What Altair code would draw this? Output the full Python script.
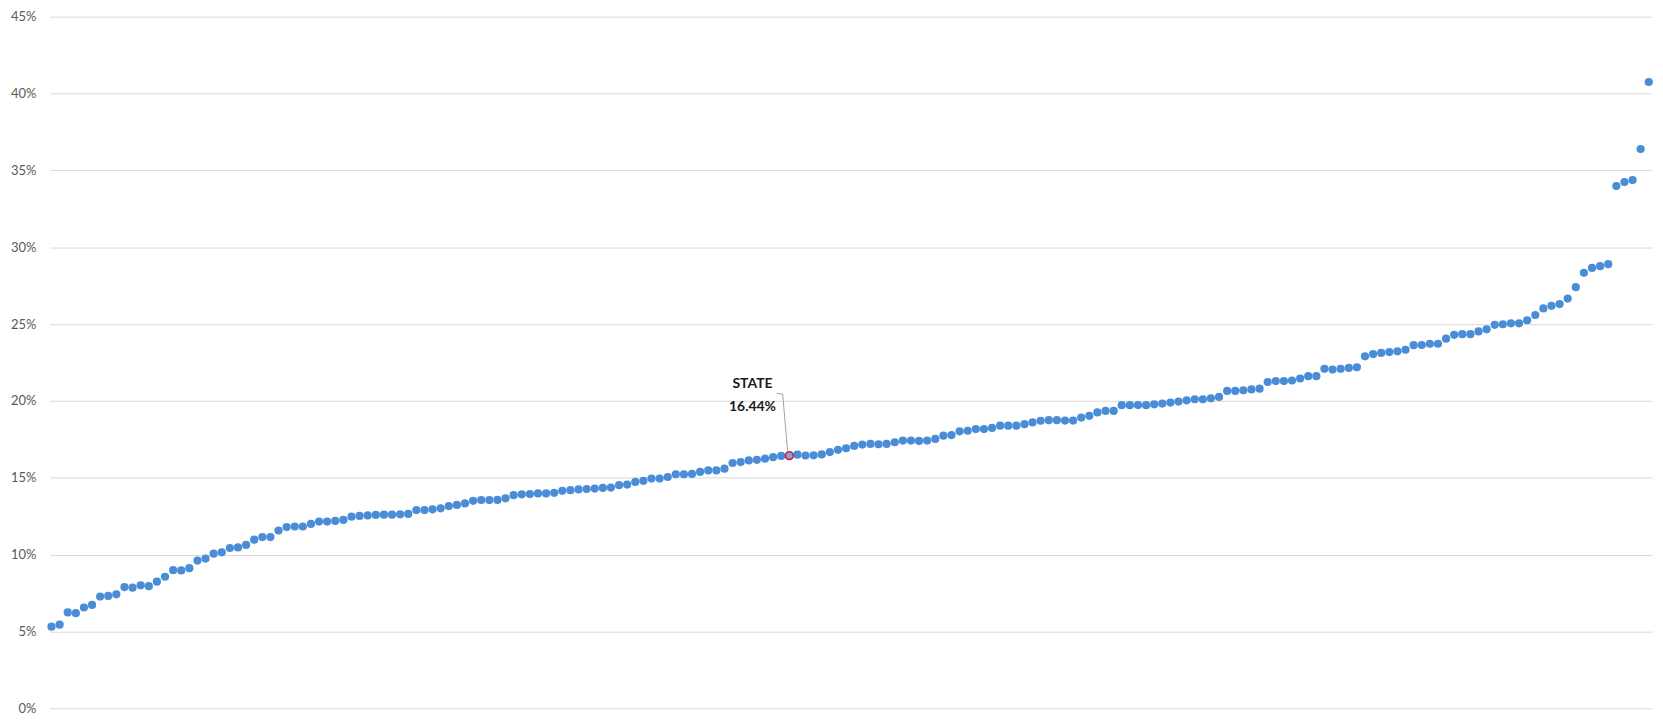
import altair as alt
import pandas as pd

# Sorted rates (percent), one per unit
rates = [
    5.31, 5.44, 6.24, 6.19, 6.56, 6.73, 7.27, 7.31, 7.42, 7.89,
    7.85, 8.00, 7.95, 8.24, 8.56, 8.99, 8.97, 9.12, 9.61, 9.74,
    10.06, 10.15, 10.43, 10.47, 10.63, 10.97, 11.14, 11.14, 11.57, 11.79,
    11.83, 11.83, 12.00, 12.15, 12.15, 12.19, 12.26, 12.47, 12.52, 12.55,
    12.58, 12.60, 12.60, 12.62, 12.65, 12.90, 12.90, 12.95, 13.01, 13.16,
    13.23, 13.33, 13.50, 13.55, 13.55, 13.56, 13.66, 13.87, 13.92, 13.94,
    13.98, 13.98, 14.02, 14.15, 14.19, 14.24, 14.27, 14.30, 14.34, 14.36,
    14.52, 14.56, 14.73, 14.80, 14.95, 14.95, 15.05, 15.23, 15.23, 15.25,
    15.38, 15.48, 15.48, 15.59, 15.96, 16.02, 16.13, 16.17, 16.24, 16.34,
    16.42, 16.44, 16.50, 16.45, 16.46, 16.52, 16.67, 16.82, 16.92, 17.07,
    17.16, 17.20, 17.18, 17.20, 17.31, 17.42, 17.42, 17.40, 17.42, 17.53,
    17.74, 17.78, 18.02, 18.06, 18.17, 18.17, 18.24, 18.39, 18.39, 18.39,
    18.49, 18.60, 18.71, 18.75, 18.75, 18.72, 18.72, 18.92, 19.03, 19.25,
    19.35, 19.35, 19.72, 19.72, 19.73, 19.72, 19.78, 19.83, 19.89, 19.96,
    20.04, 20.11, 20.11, 20.17, 20.26, 20.65, 20.65, 20.69, 20.75, 20.80,
    21.23, 21.29, 21.29, 21.33, 21.46, 21.61, 21.61, 22.09, 22.04, 22.09,
    22.15, 22.19, 22.90, 23.05, 23.12, 23.18, 23.23, 23.33, 23.63, 23.64,
    23.72, 23.72, 24.05, 24.30, 24.34, 24.34, 24.52, 24.66, 24.95, 24.99,
    25.05, 25.05, 25.25, 25.59, 26.02, 26.19, 26.30, 26.66, 27.40, 28.34,
    28.65, 28.77, 28.90, 33.98, 34.24, 34.37, 36.39, 40.75,
]

state_label = "STATE"
state_value = 16.44
state_index = 91

y_ticks = [0, 0.05, 0.10, 0.15, 0.20, 0.25, 0.30, 0.35, 0.40, 0.45]

df = pd.DataFrame({"idx": list(range(len(rates))), "rate": [r / 100 for r in rates]})
df_state = pd.DataFrame({
    "idx": [state_index],
    "rate": [state_value / 100],
    "name": [state_label],
    "value_text": [f"{state_value:.2f}%"],
})

FONT = "Lato"
BLUE = "#4a8dd7"

x_enc = alt.X(
    "idx:Q",
    scale=alt.Scale(domain=[-0.21, len(rates) - 1 + 0.4], nice=False, zero=False),
    axis=None,
)
y_enc = alt.Y(
    "rate:Q",
    scale=alt.Scale(domain=[0, 0.45], nice=False),
    axis=alt.Axis(
        values=y_ticks,
        format=".0%",
        title=None,
        domain=False,
        ticks=False,
        labelPadding=14,
        labelFont=FONT,
        labelFontSize=13,
        labelColor="#595959",
        grid=True,
        gridColor="#d9d9d9",
        gridWidth=1,
    ),
)

points = alt.Chart(df).mark_circle(size=68, color=BLUE, opacity=1).encode(x=x_enc, y=y_enc)

state_pt = alt.Chart(df_state).mark_point(
    size=60, shape="circle", filled=False, fill="#7ea8dc", fillOpacity=1,
    stroke="#e3173a", strokeWidth=1.6, opacity=1,
).encode(x="idx:Q", y="rate:Q")

leader1 = alt.Chart(df_state).mark_rule(
    color="#8c8c8c", strokeWidth=0.8,
    xOffset=-12.7, yOffset=-62.7, x2Offset=-6.7, y2Offset=-61.7,
).encode(x="idx:Q", x2="idx:Q", y="rate:Q", y2="rate:Q")

leader2 = alt.Chart(df_state).mark_rule(
    color="#8c8c8c", strokeWidth=0.8,
    xOffset=-6.7, yOffset=-61.7, x2Offset=-1.7, y2Offset=-5,
).encode(x="idx:Q", x2="idx:Q", y="rate:Q", y2="rate:Q")

lbl_name = alt.Chart(df_state).mark_text(
    font=FONT, fontSize=14, fontWeight="bold", color="#1a1a1a",
    align="center", baseline="middle", dx=-37, dy=-72,
).encode(x="idx:Q", y="rate:Q", text="name:N")

lbl_val = alt.Chart(df_state).mark_text(
    font=FONT, fontSize=14, fontWeight="bold", color="#1a1a1a",
    align="center", baseline="middle", dx=-37, dy=-49,
).encode(x="idx:Q", y="rate:Q", text="value_text:N")

chart = (
    alt.layer(points, leader1, leader2, state_pt, lbl_name, lbl_val)
    .properties(
        width=1610,
        height=695,
        autosize=alt.AutoSizeParams(type="none"),
        padding={"left": 42, "top": 7, "right": 3, "bottom": 7},
        background="white",
    )
    .configure_view(strokeWidth=0)
)

chart.save("out.html", embed_options={"renderer": "svg", "actions": False})
